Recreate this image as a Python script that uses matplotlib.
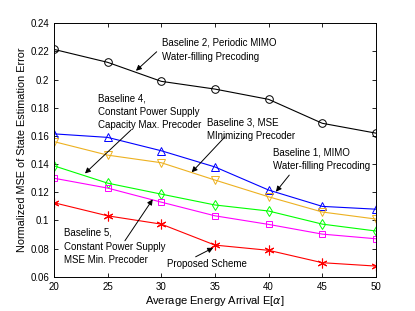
import matplotlib
matplotlib.use("Agg")
import matplotlib.pyplot as plt

x = [20, 25, 30, 35, 40, 45, 50]
baseline2 = [0.2215, 0.2123, 0.1988, 0.1933, 0.1860, 0.1690, 0.1620]
baseline1 = [0.1615, 0.1590, 0.1495, 0.1380, 0.1216, 0.1100, 0.1080]
baseline3 = [0.1560, 0.1464, 0.1410, 0.1287, 0.1168, 0.1060, 0.1010]
baseline4 = [0.1388, 0.1265, 0.1187, 0.1110, 0.1067, 0.0974, 0.0925]
baseline5 = [0.1300, 0.1230, 0.1130, 0.1033, 0.0972, 0.0903, 0.0870]
proposed = [0.1126, 0.1033, 0.0974, 0.0825, 0.0788, 0.0700, 0.0676]

xticks = [20, 25, 30, 35, 40, 45, 50]
yticks = [0.06, 0.08, 0.1, 0.12, 0.14, 0.16, 0.18, 0.2, 0.22, 0.24]
ytick_labels = ["0.06", "0.08", "0.1", "0.12", "0.14", "0.16", "0.18", "0.2", "0.22", "0.24"]

plt.rcParams['font.family'] = ['Liberation Sans', 'DejaVu Sans']
fs = 7

fig = plt.figure(figsize=(4.15, 3.11), dpi=100)
ax = fig.add_axes([0.130, 0.110, 0.776, 0.815])

mk = dict(markersize=5.5, markerfacecolor='none', markeredgewidth=0.7, linewidth=0.8)
ax.plot(x, baseline2, color='k', marker='o', **mk)
ax.plot(x, baseline1, color='#0000ff', marker='^', **mk)
ax.plot(x, baseline3, color='#edb120', marker='v', **mk)
ax.plot(x, baseline4, color='#00ff00', marker='d', **mk)
ax.plot(x, baseline5, color='#ff00ff', marker='s', markersize=5, markerfacecolor='none',
        markeredgewidth=0.7, linewidth=0.8)
ax.plot(x, proposed, color='#ff0000', marker=(6, 2, 0), markersize=7,
        markeredgewidth=0.8, linewidth=0.8)

ax.set_xlim(20, 50)
ax.set_ylim(0.06, 0.24)
ax.set_xticks(xticks)
ax.set_yticks(yticks)
ax.set_yticklabels(ytick_labels)
ax.tick_params(direction='in', top=True, right=True, labelsize=fs, length=3, width=0.6)
for s in ax.spines.values():
    s.set_linewidth(0.7)

ax.set_xlabel(r"Average Energy Arrival E[$\alpha$]", fontsize=8, labelpad=2)
ax.set_ylabel("Normalized MSE of State Estimation Error", fontsize=7.8, labelpad=2)

ap = dict(arrowstyle='-|>', color='k', lw=0.7, mutation_scale=8, shrinkA=0, shrinkB=0)
ls = 1.45

ax.annotate("", xy=(27.64, 0.2063), xytext=(29.57, 0.2198), arrowprops=ap)
ax.text(30.03, 0.2212, "Baseline 2, Periodic MIMO\nWater-filling Precoding",
        fontsize=fs, va='center', ha='left', linespacing=ls)

ax.annotate("", xy=(22.89, 0.1334), xytext=(27.17, 0.1642), arrowprops=ap)
ax.text(24.13, 0.1772, "Baseline 4,\nConstant Power Supply\nCapacity Max. Precoder",
        fontsize=fs, va='center', ha='left', linespacing=ls)

ax.annotate("", xy=(32.83, 0.1342), xytext=(35.93, 0.1594), arrowprops=ap)
ax.text(34.28, 0.1646, "Baseline 3, MSE\nMInimizing Precoder",
        fontsize=fs, va='center', ha='left', linespacing=ls)

ax.annotate("", xy=(40.68, 0.1204), xytext=(41.92, 0.1322), arrowprops=ap)
ax.text(40.43, 0.1436, "Baseline 1, MIMO\nWater-filling Precoding",
        fontsize=fs, va='center', ha='left', linespacing=ls)

ax.annotate("", xy=(29.2, 0.115), xytext=(26.61, 0.0856), arrowprops=ap)
ax.text(20.93, 0.0815, "Baseline 5,\nConstant Power Supply\nMSE Min. Precoder",
        fontsize=fs, va='center', ha='left', linespacing=ls)

ax.annotate("", xy=(34.84, 0.0806), xytext=(33.2, 0.0742), arrowprops=ap)
ax.text(30.5, 0.0688, "Proposed Scheme", fontsize=fs, va='center', ha='left')

fig.savefig("out.png", dpi=100)
